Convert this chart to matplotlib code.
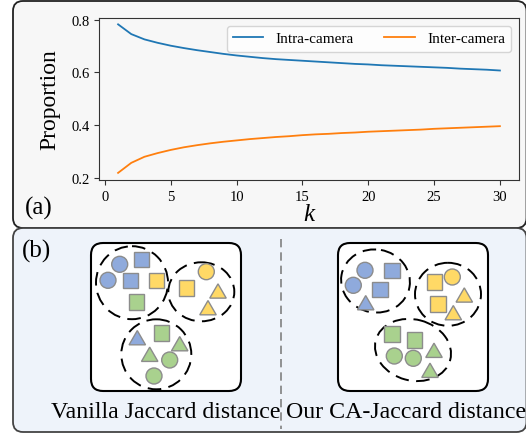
import matplotlib
matplotlib.use("Agg")
import matplotlib.pyplot as plt
import numpy as np
from matplotlib.patches import FancyBboxPatch, Circle, Rectangle, RegularPolygon, Ellipse

plt.rcParams["font.family"] = ["Liberation Serif", "DejaVu Serif"]

# ── (a) data: proportion of neighbours vs k ─────────────────────────────────
k_values = list(range(1, 31))
intra_camera = [0.782, 0.745, 0.725, 0.712, 0.701, 0.692, 0.684, 0.677, 0.670, 0.664,
                0.659, 0.654, 0.650, 0.647, 0.644, 0.641, 0.638, 0.635, 0.632, 0.630,
                0.627, 0.625, 0.623, 0.621, 0.619, 0.617, 0.614, 0.612, 0.610, 0.607]
inter_camera = [0.219, 0.257, 0.280, 0.294, 0.306, 0.316, 0.324, 0.331, 0.337, 0.342,
                0.347, 0.351, 0.355, 0.358, 0.362, 0.365, 0.367, 0.370, 0.372, 0.375,
                0.377, 0.379, 0.381, 0.383, 0.386, 0.388, 0.390, 0.392, 0.394, 0.396]
x_ticks = [0, 5, 10, 15, 20, 25, 30]
y_ticks = [0.2, 0.4, 0.6, 0.8]

# ── (b) illustration: (kind, colour, x, y) in pixel space ──────────────────
vanilla_shapes = [
    ("c", "b", 119.7, 265.3), ("s", "b", 141.3, 260.3), ("c", "b", 108.0, 281.3),
    ("s", "b", 130.3, 281.3), ("s", "y", 156.3, 281.3), ("s", "g", 136.3, 302.7),
    ("s", "y", 186.3, 288.7), ("c", "y", 206.3, 272.7), ("t", "y", 218.0, 292.0),
    ("t", "y", 208.0, 308.7),
    ("t", "b", 137.3, 338.7), ("s", "g", 161.3, 333.7), ("t", "g", 179.7, 344.7),
    ("t", "g", 149.7, 355.3), ("c", "g", 169.7, 361.0), ("c", "g", 154.0, 377.0),
]
vanilla_groups = [(132.0, 283.7, 72, 73, 0), (201.3, 292.8, 66, 59, 0),
                  (156.3, 355.3, 70, 70, 0)]

ca_shapes = [
    ("c", "b", 365.0, 271.3), ("s", "b", 391.7, 271.3), ("c", "b", 353.3, 286.3),
    ("s", "b", 380.0, 290.3), ("t", "b", 365.7, 303.7),
    ("s", "y", 434.3, 282.7), ("c", "y", 452.3, 278.0), ("t", "y", 464.3, 296.0),
    ("s", "y", 437.7, 304.7), ("t", "y", 453.3, 313.7),
    ("s", "g", 391.7, 334.7), ("s", "g", 414.3, 340.7), ("t", "g", 434.0, 351.3),
    ("c", "g", 394.3, 357.0), ("c", "g", 413.3, 359.3), ("t", "g", 430.0, 371.3),
]
ca_groups = [(375.5, 282.0, 69, 63, 10), (448.0, 295.3, 66, 63, 0),
             (413.0, 351.0, 77, 61, 15)]

captions = ["Vanilla Jaccard distance", "Our CA-Jaccard distance"]
legend_labels = ["Intra-camera", "Inter-camera"]

FILL = {"b": "#8faadc", "y": "#ffd966", "g": "#a9d18e"}
EDGE = "#8c8c8c"


def draw_shape(ax, kind, col, x, y):
    if kind == "c":
        p = Circle((x, y), 8.0)
    elif kind == "s":
        p = Rectangle((x - 7.8, y - 7.8), 15.6, 15.6)
    else:
        r = 9.5
        p = RegularPolygon((x, y + r / 4), 3, radius=r, orientation=np.pi)
    p.set_facecolor(FILL[col])
    p.set_edgecolor(EDGE)
    p.set_linewidth(1.0)
    p.set_zorder(4)
    ax.add_patch(p)


fig = plt.figure(figsize=(5.26, 4.35), dpi=100)
canvas = fig.add_axes([0, 0, 1, 1])
canvas.set_xlim(0, 526)
canvas.set_ylim(435, 0)
canvas.axis("off")

# panels
canvas.add_patch(FancyBboxPatch((13, 2), 513.5, 227, boxstyle="round,pad=0,rounding_size=10",
                                fc="#f7f7f7", ec="#222222", lw=1.3, zorder=1))
canvas.add_patch(FancyBboxPatch((13, 229), 513.5, 204, boxstyle="round,pad=0,rounding_size=10",
                                fc="#eef3fa", ec="#444444", lw=1.3, zorder=1))

for bx in (91, 338):
    canvas.add_patch(FancyBboxPatch((bx, 244), 150, 148, boxstyle="round,pad=0,rounding_size=12",
                                    fc="white", ec="black", lw=1.5, zorder=2))

for shapes, groups in ((vanilla_shapes, vanilla_groups), (ca_shapes, ca_groups)):
    for kind, col, x, y in shapes:
        draw_shape(canvas, kind, col, x, y)
    for cx, cy, w, h, ang in groups:
        canvas.add_patch(Ellipse((cx, cy), w, h, angle=ang, fill=False, ec="black",
                                 lw=1.4, ls=(0, (7, 3.8)), zorder=3))

canvas.plot([281, 281], [240, 430], color="#808080", lw=1.2, ls=(0, (5, 3)), zorder=2)

canvas.text(165.5, 418.5, captions[0], ha="center", va="baseline", fontsize=17.2, zorder=5)
canvas.text(406, 418.5, captions[1], ha="center", va="baseline", fontsize=17.2, zorder=5)
canvas.text(25, 215, "(a)", ha="left", va="baseline", fontsize=18, zorder=5)
canvas.text(22, 258, "(b)", ha="left", va="baseline", fontsize=18, zorder=5)

# ── line plot ────────────────────────────────────────────────────────────────
ax = fig.add_axes([99 / 526, 1 - 181 / 435, 420 / 526, 162 / 435])
ax.set_facecolor("none")
ax.plot(k_values, intra_camera, color="#1f77b4", lw=1.3, label=legend_labels[0])
ax.plot(k_values, inter_camera, color="#ff7f0e", lw=1.3, label=legend_labels[1])
ax.set_xlim(-0.45, 31.45)
ax.set_ylim(0.192, 0.806)
ax.set_xticks(x_ticks)
ax.set_yticks(y_ticks)
ax.set_yticklabels([f"{v:.1f}" for v in y_ticks])
ax.tick_params(labelsize=10.5, color="#333333")
for s in ax.spines.values():
    s.set_color("#333333")
ax.set_ylabel("Proportion", fontsize=17, labelpad=8)
ax.set_xlabel("k", fontsize=18, fontstyle="italic", labelpad=0)
ax.legend(loc="upper right", ncol=2, fontsize=11)

fig.savefig("out.png", dpi=100)
